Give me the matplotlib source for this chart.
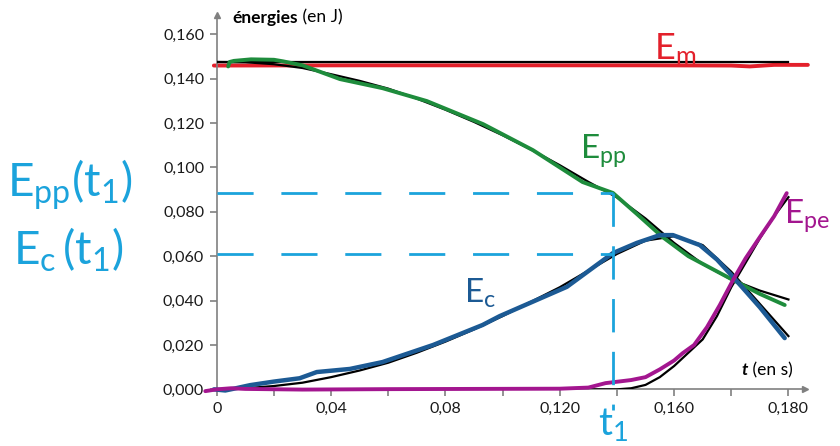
#Energies of a falling object: model (black) and measured curves (coloured)
import matplotlib
matplotlib.use("Agg")
import matplotlib.pyplot as plt
import numpy as np

plt.rcParams['font.family'] = ['Lato', 'DejaVu Sans']
plt.rcParams['mathtext.fontset'] = 'custom'
plt.rcParams['mathtext.rm'] = 'Lato'
plt.rcParams['mathtext.it'] = 'Lato:italic'

#Model curves (black), time in s, energy in J
t_model = [0, 0.01, 0.02, 0.03, 0.04, 0.05, 0.06, 0.07, 0.08, 0.09, 0.10,
           0.11, 0.12, 0.13, 0.14, 0.15, 0.16, 0.17, 0.18, 0.19, 0.20]
em_model = [0.1473] * len(t_model)
epp_model = [0.1475, 0.1474, 0.1465, 0.1448, 0.1420, 0.1390, 0.1355, 0.1310,
             0.1260, 0.1205, 0.1145, 0.1080, 0.1010, 0.0935, 0.0865, 0.0770,
             0.0660, 0.0565, 0.0495, 0.0445, 0.0405]
ec_model = [0.0, 0.0005, 0.0015, 0.0030, 0.0055, 0.0085, 0.0120, 0.0165,
            0.0215, 0.0270, 0.0330, 0.0395, 0.0460, 0.0535, 0.0610, 0.0670,
            0.0690, 0.0650, 0.0530, 0.0385, 0.0240]
t_epe_model = [0, 0.14, 0.145, 0.15, 0.155, 0.16, 0.165, 0.17, 0.175, 0.18,
               0.185, 0.19, 0.195, 0.20]
epe_model = [0, 0, 0.0005, 0.0020, 0.0055, 0.0105, 0.0165, 0.0225, 0.0330,
             0.0460, 0.0570, 0.0680, 0.0780, 0.0866]

#Measured curves (hand drawn colours)
t_em = [-0.001, 0.05, 0.10, 0.15, 0.18, 0.1865, 0.195, 0.2068]
em_meas = [0.1459, 0.1460, 0.1460, 0.1460, 0.1459, 0.1455, 0.1462, 0.1462]

t_epp = [0.004, 0.0045, 0.006, 0.012, 0.02, 0.0232, 0.03, 0.0431, 0.058,
         0.0735, 0.0932, 0.1106, 0.128, 0.1386, 0.147, 0.156, 0.165, 0.1806,
         0.19, 0.1987]
epp_meas = [0.1455, 0.1475, 0.1480, 0.1487, 0.1485, 0.1478, 0.1460, 0.1398,
            0.1357, 0.1299, 0.1195, 0.1078, 0.0934, 0.0885, 0.0790, 0.0686,
            0.0600, 0.0493, 0.0430, 0.0380]

t_ec = [-0.001, 0.003, 0.006, 0.0117, 0.02, 0.029, 0.035, 0.0466, 0.058,
        0.0757, 0.093, 0.099, 0.1225, 0.1386, 0.147, 0.155, 0.1596, 0.169,
        0.175, 0.1806, 0.19, 0.1987]
ec_meas = [0.0, -0.0005, 0.0003, 0.0019, 0.0035, 0.0050, 0.0078, 0.0092,
           0.0123, 0.0200, 0.0290, 0.0330, 0.0462, 0.0614, 0.0660, 0.0695,
           0.0695, 0.0650, 0.0585, 0.0507, 0.0370, 0.0231]

t_epe = [-0.004, 0.0, 0.005, 0.01, 0.03, 0.06, 0.09, 0.12, 0.13, 0.136,
         0.145, 0.15, 0.155, 0.16, 0.163, 0.167, 0.1715, 0.176, 0.1806,
         0.185, 0.19, 0.195, 0.1994]
epe_meas = [-0.0008, 0.0, 0.0005, 0.0002, -0.0001, 0.0001, 0.0002, 0.0003,
            0.0008, 0.0028, 0.0042, 0.0055, 0.0090, 0.0130, 0.0163, 0.0200,
            0.0280, 0.0380, 0.0492, 0.0590, 0.0686, 0.0780, 0.0884]

#Reading at t1
t1 = 0.1386
epp_t1 = 0.0885
ec_t1 = 0.0610

#Axis ticks (labels copied as printed)
x_ticks = [0, 0.02, 0.04, 0.06, 0.08, 0.10, 0.12, 0.14, 0.16, 0.18, 0.20]
x_labels = ["0", "", "0,04", "", "0,08", "", "0,120", "", "0,160", "", "0,180"]
y_ticks = [0, 0.02, 0.04, 0.06, 0.08, 0.10, 0.12, 0.14, 0.16]
y_labels = ["0,000", "0,020", "0,040", "0,060", "0,080", "0,100", "0,120",
            "0,140", "0,160"]

red = "#e3202b"
green = "#1e8c3c"
blue = "#1c5a94"
purple = "#a3168f"
cyan = "#1ba3dc"
axis_grey = "#808080"

fig = plt.figure(figsize=(8.4, 4.46), dpi=100)
ax = fig.add_axes([0.258, 0.127, 0.7, 0.839])
ax.set_xlim(0, 0.2057)
ax.set_ylim(0, 0.1686)

#Black model lines
ax.plot(t_model, em_model, color="black", lw=1.6, zorder=3)
ax.plot(t_model, epp_model, color="black", lw=1.6, zorder=3)
ax.plot(t_model, ec_model, color="black", lw=1.6, zorder=3)
ax.plot(t_epe_model, epe_model, color="black", lw=1.6, zorder=3)

#Measured coloured lines
ax.plot(t_em, em_meas, color=red, lw=2.8, zorder=2, clip_on=False,
        solid_capstyle="round")
ax.plot(t_epp, epp_meas, color=green, lw=2.8, zorder=4, clip_on=False,
        solid_capstyle="round")
ax.plot(t_ec, ec_meas, color=blue, lw=3.2, zorder=4, clip_on=False,
        solid_capstyle="round")
ax.plot(t_epe, epe_meas, color=purple, lw=2.8, zorder=4, clip_on=False,
        solid_capstyle="round")

#Dashed reading lines
ax.plot([0, t1], [epp_t1, epp_t1], color=cyan, lw=2, dashes=(13, 10), zorder=5)
ax.plot([0, t1], [ec_t1, ec_t1], color=cyan, lw=2, dashes=(13, 10), zorder=5)
ax.plot([t1, t1], [epp_t1, -0.0095], color=cyan, lw=2, dashes=(12, 7),
        zorder=5, clip_on=False)

#Axes styling
for s in ["top", "right"]:
    ax.spines[s].set_visible(False)
for s in ["left", "bottom"]:
    ax.spines[s].set_color(axis_grey)
    ax.spines[s].set_linewidth(1.2)
ax.plot(1, 0, ">", color=axis_grey, ms=5, transform=ax.transAxes, clip_on=False)
ax.plot(0, 1, "^", color=axis_grey, ms=5, transform=ax.transAxes, clip_on=False)

ax.set_xticks(x_ticks)
ax.set_xticklabels(x_labels)
ax.set_yticks(y_ticks)
ax.set_yticklabels(y_labels)
ax.tick_params(axis="both", color=axis_grey, length=5, width=1.2,
               labelsize=11.5, labelcolor="#1a1a1a", pad=4)

#Axis titles
lab = ax.text(0.0055, 0.1675, "énergies", fontsize=12.5, fontweight="bold",
              ha="left", va="center")
ax.annotate(" (en J)", xy=(1, 0.5), xycoords=lab, fontsize=12.5,
            ha="left", va="center")
lab_t = ax.text(0.1835, 0.0085, "t", fontsize=12.5, fontweight="bold",
                fontstyle="italic", ha="left", va="center")
ax.annotate(" (en s)", xy=(1, 0.5), xycoords=lab_t, fontsize=12.5,
            ha="left", va="center")

#Curve names
ax.text(0.153, 0.1535, r"$\mathregular{E_m}$", color=red, fontsize=26,
        ha="left", va="center")
ax.text(0.127, 0.1075, r"$\mathregular{E_{pp}}$", color=green, fontsize=24,
        ha="left", va="center")
ax.text(0.0865, 0.0430, r"$\mathregular{E_c}$", color=blue, fontsize=24,
        ha="left", va="center")
ax.text(0.1985, 0.0785, r"$\mathregular{E_{pe}}$", color=purple, fontsize=24,
        ha="left", va="center", clip_on=False)

#Hand written reading labels
fig.text(0.008, 0.585, r"$\mathregular{E_{pp}(t_1)}$", color=cyan,
         fontsize=33, ha="left", va="center")
fig.text(0.016, 0.44, r"$\mathregular{E_c\,(t_1)}$", color=cyan,
         fontsize=33, ha="left", va="center")
fig.text(0.712, 0.006, r"$\mathregular{t_1}$", color=cyan,
         fontsize=28, ha="left", va="bottom")

fig.savefig("out.png", dpi=100)
